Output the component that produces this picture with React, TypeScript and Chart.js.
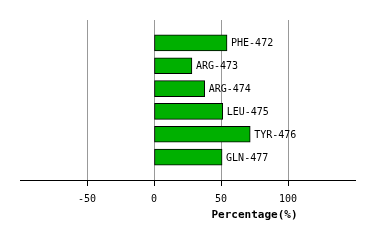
import React, { useEffect, useRef } from "react";
import { Chart, registerables } from "chart.js";

Chart.register(...registerables);

const categories = ["", "PHE-472", "ARG-473", "ARG-474", "LEU-475", "TYR-476", "GLN-477", ""];
const values: (number | null)[] = [null, 54.5, 28.3, 37.8, 51.3, 71.8, 50.8, null];
const xMin = -100;
const xMax = 150;
const tickStep = 50;
const axisTitle = "Percentage(%)";

const MONO = "'DejaVu Sans Mono', monospace";

const barLabels = {
  id: "barLabels",
  afterDatasetsDraw(chart: any) {
    const ctx = chart.ctx;
    const meta = chart.getDatasetMeta(0);
    ctx.save();
    ctx.font = `10px ${MONO}`;
    ctx.fillStyle = "#000";
    ctx.textAlign = "left";
    ctx.textBaseline = "middle";
    meta.data.forEach((el: any, i: number) => {
      if (values[i] == null) return;
      ctx.fillText(categories[i], el.x + 4, el.y + 1);
    });
    ctx.restore();
  },
};

const axisTitlePlugin = {
  id: "axisTitlePlugin",
  afterDraw(chart: any) {
    const ctx = chart.ctx;
    const xs = chart.scales.x;
    ctx.save();
    ctx.font = `bold 11px ${MONO}`;
    ctx.fillStyle = "#000";
    ctx.textAlign = "center";
    ctx.textBaseline = "middle";
    ctx.fillText(axisTitle, xs.getPixelForValue(75), chart.chartArea.bottom + 35);
    ctx.restore();
  },
};

export default function App() {
  const ref = useRef<HTMLCanvasElement>(null);
  useEffect(() => {
    if (!ref.current) return;
    const chart = new Chart(ref.current, {
      type: "bar",
      data: {
        labels: categories,
        datasets: [
          {
            data: values,
            backgroundColor: "#00b000",
            borderColor: "#000",
            borderWidth: 1,
            borderSkipped: false,
            barThickness: 16,
          },
        ],
      },
      options: {
        indexAxis: "y",
        animation: false,
        responsive: false,
        layout: { padding: { left: 20, right: 19, top: 20, bottom: 0 } },
        plugins: { legend: { display: false }, tooltip: { enabled: false } },
        scales: {
          x: {
            min: xMin,
            max: xMax,
            ticks: {
              stepSize: tickStep,
              font: { family: MONO, size: 10 },
              color: "#000",
              padding: 7,
            },
            afterBuildTicks: (s: any) => {
              s.ticks = s.ticks.filter((t: any) => t.value > xMin && t.value < xMax);
            },
            afterFit: (s: any) => {
              s.height = 60;
            },
            grid: {
              color: "#999",
              tickColor: "#000",
              tickLength: 6,
              lineWidth: 1,
            },
            border: { color: "#000", width: 1 },
          },
          y: {
            offset: false,
            ticks: { display: false },
            grid: { display: false },
            border: { display: false },
            afterFit: (s: any) => {
              s.width = 0;
            },
          },
        },
      },
      plugins: [barLabels, axisTitlePlugin],
    });
    return () => chart.destroy();
  }, []);
  return (
    <div style={{ position: "fixed", left: 0, top: 0, width: 374, height: 240, background: "#fff" }}>
      <canvas ref={ref} width={374} height={240} style={{ width: 374, height: 240 }} />
    </div>
  );
}
